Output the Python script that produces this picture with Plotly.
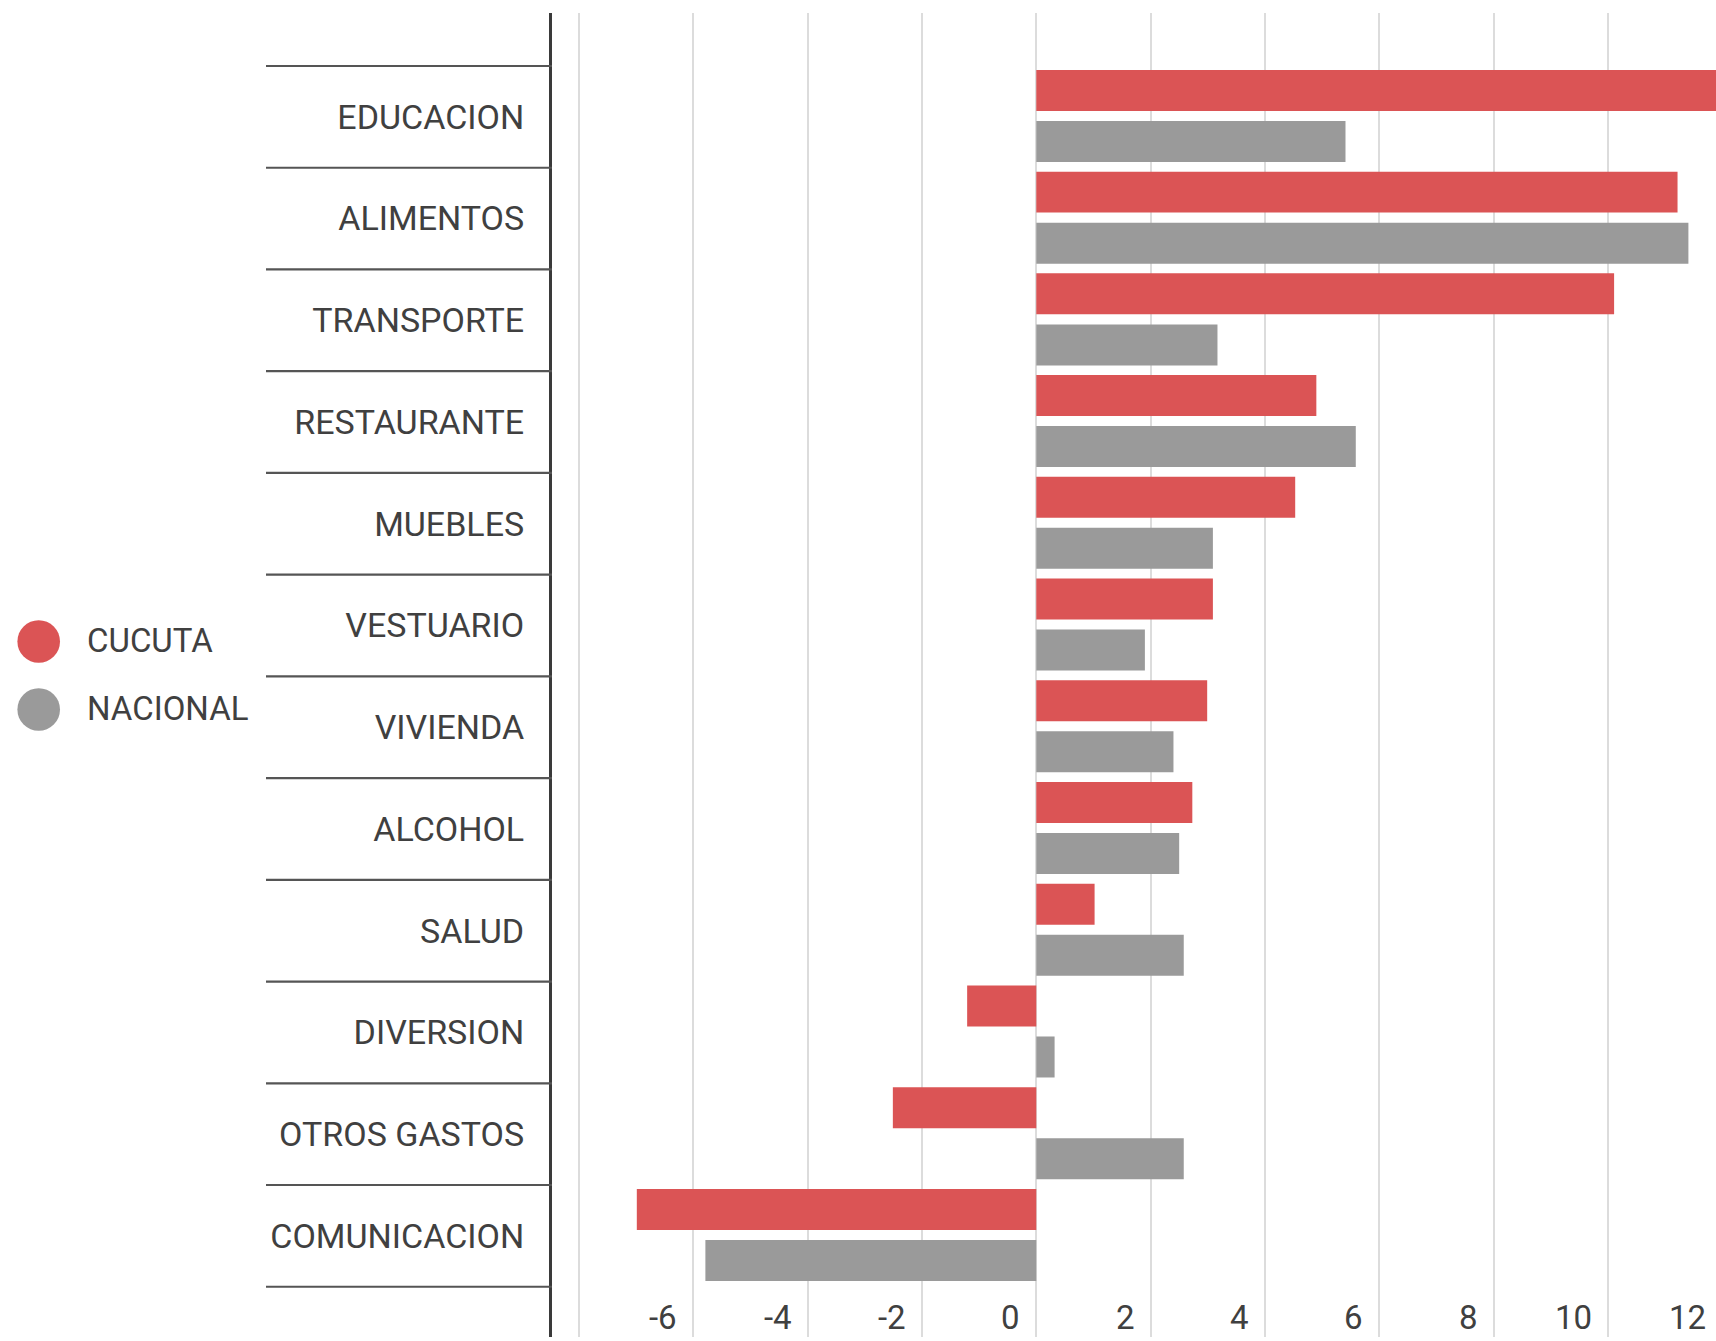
import plotly.graph_objects as go

# ---- data ----
categories = ["EDUCACION", "ALIMENTOS", "TRANSPORTE", "RESTAURANTE", "MUEBLES",
              "VESTUARIO", "VIVIENDA", "ALCOHOL", "SALUD", "DIVERSION",
              "OTROS GASTOS", "COMUNICACION"]
cucuta = [12.3, 11.22, 10.11, 4.90, 4.53, 3.09, 2.99, 2.73, 1.02, -1.21, -2.51, -6.99]
nacional = [5.41, 11.41, 3.17, 5.59, 3.09, 1.90, 2.40, 2.50, 2.58, 0.32, 2.58, -5.79]
series_names = ["CUCUTA", "NACIONAL"]
tick_values = [-6, -4, -2, 0, 2, 4, 6, 8, 10, 12]
tick_labels = ["-6", "-4", "-2", "0", "2", "4", "6", "8", "10", "12"]

# ---- style ----
W, H = 1716, 1341
L, R, T, B = 552, 0, 13, 4
PW, PH = W - L - R, H - T - B
RED, GRAY = "#DB5455", "#9A9A9A"
TEXT = "#404040"
FONT = "Roboto, Arial, sans-serif"
x_range = [-8.474, 11.893]
y_range = [11.994, -1.021]


def px_x(px):
    return (px - L) / PW


def px_y(py):
    return (H - B - py) / PH


pos = list(range(len(categories)))

fig = go.Figure()
fig.add_trace(go.Bar(y=pos, x=cucuta, orientation="h", name=series_names[0],
                     marker=dict(color=RED, line=dict(width=0)),
                     width=0.403, offset=-0.4617))
fig.add_trace(go.Bar(y=pos, x=nacional, orientation="h", name=series_names[1],
                     marker=dict(color=GRAY, line=dict(width=0)),
                     width=0.403, offset=0.040))

shapes = []
# category separators extending into the label area
for i in range(len(categories) + 1):
    shapes.append(dict(type="line", xref="paper", yref="y",
                       x0=px_x(266), x1=0, y0=i - 0.5, y1=i - 0.5,
                       line=dict(color="#555555", width=2.2)))

# legend circles
legend_y = [641.5, 709.5]
for name, col, ly in zip(series_names, [RED, GRAY], legend_y):
    shapes.append(dict(type="circle", xref="paper", yref="paper",
                       xsizemode="pixel", ysizemode="pixel",
                       xanchor=px_x(38.7), yanchor=px_y(ly),
                       x0=-21.3, x1=21.3, y0=-21.3, y1=21.3,
                       fillcolor=col, line=dict(width=0)))

annotations = []
for name, ly in zip(series_names, [640, 708.5]):
    annotations.append(dict(text=name, xref="paper", yref="paper",
                            x=px_x(85), y=px_y(ly), xanchor="left", yanchor="middle",
                            showarrow=False, font=dict(family=FONT, size=33, color=TEXT)))

# x tick labels (right-aligned, left of their gridline)
for v, lab in zip(tick_values, tick_labels):
    xf = (v - x_range[0]) / (x_range[1] - x_range[0])
    annotations.append(dict(text=lab, xref="paper", yref="paper",
                            x=xf, y=px_y(1317), xanchor="right", yanchor="middle",
                            xshift=-14, showarrow=False,
                            font=dict(family=FONT, size=33, color=TEXT)))

fig.update_layout(
    width=W, height=H,
    margin=dict(l=L, r=R, t=T, b=B, pad=0),
    paper_bgcolor="white", plot_bgcolor="white",
    barmode="overlay",
    showlegend=False,
    font=dict(family=FONT, size=33, color=TEXT),
    shapes=shapes,
    annotations=annotations,
    xaxis=dict(range=x_range, dtick=2, tick0=0, showgrid=True,
               gridcolor="#DCDCDC", gridwidth=1.5, zeroline=False,
               showticklabels=False, showline=False, fixedrange=True),
    yaxis=dict(range=y_range, tickmode="array", tickvals=pos, ticktext=categories,
               showgrid=False, zeroline=False, showline=True,
               linecolor="#3a3a3a", linewidth=3, ticks="",
               ticklabelstandoff=18, fixedrange=True,
               tickfont=dict(family=FONT, size=34, color=TEXT)),
)

fig.write_html("out.html",
               config={"displayModeBar": False},
               post_script="document.body.style.margin='0px';document.body.style.overflow='hidden';")
